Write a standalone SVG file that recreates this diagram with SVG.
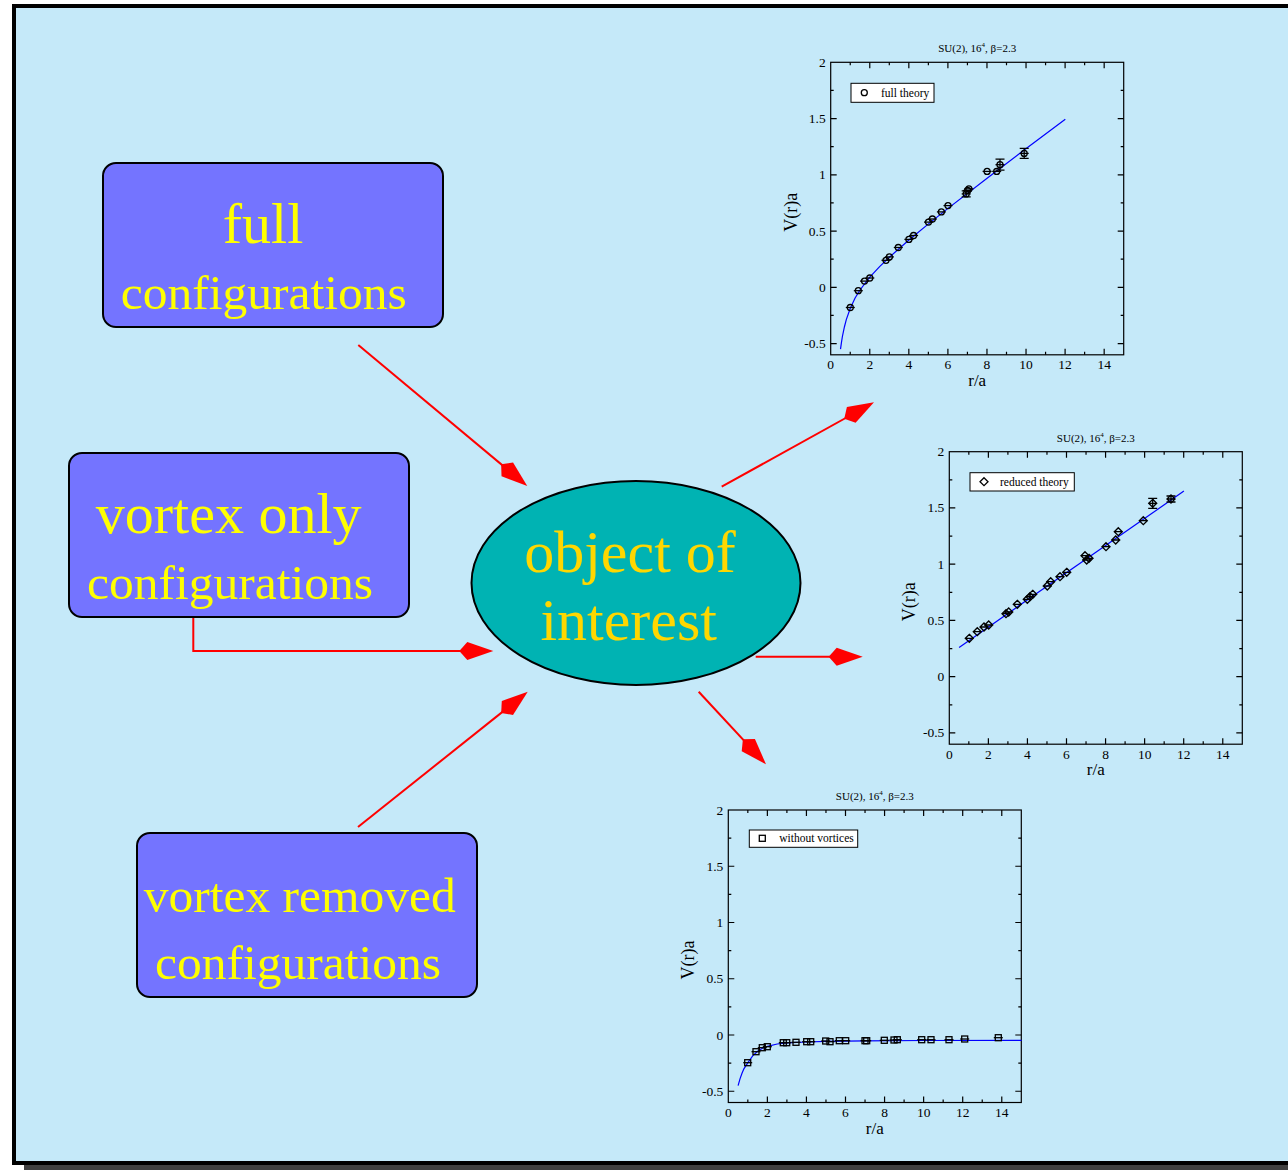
<svg xmlns="http://www.w3.org/2000/svg" width="1288" height="1170" viewBox="0 0 1288 1170">
<style>
.box{fill:#7474ff;stroke:#000;stroke-width:2}
.bt{font-family:"Liberation Serif","Times New Roman",serif;fill:#ffff00;text-anchor:middle}
.et{font-family:"Liberation Serif","Times New Roman",serif;fill:#ffd700;text-anchor:middle;font-size:60px}
.conn{fill:none;stroke:#ff0000;stroke-width:2;marker-end:url(#head)}
.pt{font-family:"Liberation Serif","Times New Roman",serif;fill:#000}
.tk{font-size:13.5px}
.fr{fill:none;stroke:#000;stroke-width:1.2}
.fit{fill:none;stroke:#0000ff;stroke-width:1.2}
.sym{fill:none;stroke:#000;stroke-width:1.3}
.leg{fill:#fff;stroke:#000;stroke-width:1}
.lt{font-size:11.5px}
</style>
<defs>
<marker id="head" markerUnits="userSpaceOnUse" orient="auto" viewBox="-16 -10 38 20" refX="0" refY="0" markerWidth="38" markerHeight="20">
<path d="M20,0 L-6,-9 L-14,0 L-6,9 Z" fill="#ff0000"/>
</marker>
<g id="axes">
<rect class="fr" x="0" y="0" width="293" height="292.5"/>
<path class="fr" d="M39.07 292.5v-6M78.13 292.5v-6M117.2 292.5v-6M156.27 292.5v-6M195.33 292.5v-6M234.4 292.5v-6M273.47 292.5v-6
M19.53 292.5v-3M58.6 292.5v-3M97.67 292.5v-3M136.73 292.5v-3M175.8 292.5v-3M214.87 292.5v-3M253.93 292.5v-3
M39.07 0v6M78.13 0v6M117.2 0v6M156.27 0v6M195.33 0v6M234.4 0v6M273.47 0v6
M19.53 0v3M58.6 0v3M97.67 0v3M136.73 0v3M175.8 0v3M214.87 0v3M253.93 0v3
M0 56.25h6M0 112.5h6M0 168.75h6M0 225h6M0 281.25h6
M0 28.13h3M0 84.38h3M0 140.63h3M0 196.88h3M0 253.13h3
M293 56.25h-6M293 112.5h-6M293 168.75h-6M293 225h-6M293 281.25h-6
M293 28.13h-3M293 84.38h-3M293 140.63h-3M293 196.88h-3M293 253.13h-3"/>
<g class="pt tk" text-anchor="middle">
<text x="0" y="307">0</text><text x="39.07" y="307">2</text><text x="78.13" y="307">4</text><text x="117.2" y="307">6</text><text x="156.27" y="307">8</text><text x="195.33" y="307">10</text><text x="234.4" y="307">12</text><text x="273.47" y="307">14</text>
</g>
<g class="pt tk" text-anchor="end">
<text x="-5" y="4.5">2</text><text x="-5" y="60.75">1.5</text><text x="-5" y="117">1</text><text x="-5" y="173.25">0.5</text><text x="-5" y="229.5">0</text><text x="-5" y="285.75">-0.5</text>
</g>
<text class="pt" x="146.5" y="-10" text-anchor="middle" font-size="11">SU(2), 16<tspan font-size="7" dy="-5">4</tspan><tspan dy="5">, β=2.3</tspan></text>
<text class="pt" x="146.5" y="323.5" text-anchor="middle" font-size="17">r/a</text>
<text class="pt" transform="translate(-34,150) rotate(-90)" text-anchor="middle" font-size="18">V(r)a</text>
</g>
<g id="pc"><circle class="sym" cx="0" cy="0" r="3"/><path class="sym" d="M-4.5 0h9"/></g>
<g id="pd"><path class="sym" d="M0 -4L4 0L0 4L-4 0Z M-4.5 0h9"/></g>
<g id="ps"><rect class="sym" x="-3" y="-3" width="6" height="6"/><path class="sym" d="M-4.5 0h9"/></g>
</defs>

<rect x="0" y="0" width="1288" height="1170" fill="#ffffff"/>
<rect x="24" y="1165" width="1264" height="5" fill="#404040"/>
<rect x="14" y="6" width="1300" height="1157" fill="#c5e9f9" stroke="#000" stroke-width="4"/>

<g id="connectors">
<path class="conn" d="M358.3,345 L511.9,473.2"/>
<path class="conn" d="M193.3,617 V651 H473.3"/>
<path class="conn" d="M358,827 L512.1,704.2"/>
<path class="conn" d="M721.7,486.7 L856.5,412"/>
<path class="conn" d="M755.7,656.7 L842.7,656.7"/>
<path class="conn" d="M698.7,691.7 L752.4,749.6"/>
</g>

<g id="box-full">
<rect class="box" x="103" y="163" width="340" height="164" rx="13"/>
<text class="bt" x="263" y="243" font-size="58">full</text>
<text class="bt" x="263.7" y="309" font-size="49.5">configurations</text>
</g>
<g id="box-vortex-only">
<rect class="box" x="69" y="453" width="340" height="164" rx="13"/>
<text class="bt" x="228.7" y="533" font-size="58">vortex only</text>
<text class="bt" x="230" y="599" font-size="49.5">configurations</text>
</g>
<g id="box-vortex-removed">
<rect class="box" x="137" y="833" width="340" height="164" rx="13"/>
<text class="bt" x="299.7" y="912" font-size="49.5">vortex removed</text>
<text class="bt" x="298" y="979" font-size="49.5">configurations</text>
</g>
<g id="object-of-interest">
<ellipse cx="636" cy="583" rx="164.5" ry="102" fill="#00b3b3" stroke="#000" stroke-width="2"/>
<text class="et" x="630" y="572">object of</text>
<text class="et" x="628.7" y="639.5">interest</text>
</g>

<g id="plot-full">
<use href="#axes" transform="translate(830.7,62.3)"/>
<rect class="leg" x="851" y="83.3" width="83" height="19"/>
<circle class="sym" cx="864.3" cy="92.7" r="3"/>
<text class="pt lt" x="881" y="96.5">full theory</text>
<path class="fit" d="M840.5,349.1 L841.5,342.2 L842.4,336.5 L844.4,327 L846.3,319.6 L850.3,308.3 L855.1,298 L860,290 L869.8,277.2 L879.6,266.6 L889.4,257.2 L908.9,240 L928.5,223.9 L948,208.4 L987.1,178.2 L1026.2,148.6 L1065.3,119.2"/>
<use href="#pc" x="850.3" y="307.5"/><use href="#pc" x="858.3" y="290.7"/><use href="#pc" x="864.5" y="281.1"/><use href="#pc" x="869.8" y="278"/>
<use href="#pc" x="886" y="260.3"/><use href="#pc" x="889.4" y="256.9"/><use href="#pc" x="898.3" y="247.5"/><use href="#pc" x="908.9" y="239.4"/>
<use href="#pc" x="913.6" y="235.5"/><use href="#pc" x="928.5" y="222.1"/><use href="#pc" x="932.4" y="219"/><use href="#pc" x="941.4" y="211.9"/>
<use href="#pc" x="948" y="205.6"/><use href="#pc" x="966.2" y="193.9"/><use href="#pc" x="967.6" y="190.5"/><use href="#pc" x="968.9" y="188.9"/>
<use href="#pc" x="987.1" y="171.4"/><use href="#pc" x="996.7" y="171.4"/><use href="#pc" x="1000" y="164.7"/><use href="#pc" x="1024.2" y="153.4"/>
<path class="sym" d="M966.2 190.9V196.9M961.7 190.9h9M961.7 196.9h9 M1000 159.2V170.2M995.5 159.2h9M995.5 170.2h9 M1024.2 148.4V158.4M1019.7 148.4h9M1019.7 158.4h9"/>
</g>

<g id="plot-reduced">
<use href="#axes" transform="translate(949.3,451.7)"/>
<rect class="leg" x="970" y="472.7" width="104.3" height="18.3"/>
<path class="sym" d="M984 477.7L988 481.7L984 485.7L980 481.7Z"/>
<text class="pt lt" x="1000" y="485.5">reduced theory</text>
<path class="fit" d="M959.1,647.4 L1183.9,491.1"/>
<use href="#pd" x="969.3" y="638.3"/><use href="#pd" x="977.3" y="631.7"/><use href="#pd" x="984" y="627"/><use href="#pd" x="988.7" y="625"/>
<use href="#pd" x="1006" y="613.7"/><use href="#pd" x="1008.7" y="612"/><use href="#pd" x="1017.3" y="604.3"/><use href="#pd" x="1027.3" y="599.3"/>
<use href="#pd" x="1030" y="596.7"/><use href="#pd" x="1032.7" y="594.3"/><use href="#pd" x="1047.3" y="586"/><use href="#pd" x="1050.7" y="581.7"/>
<use href="#pd" x="1060" y="576.7"/><use href="#pd" x="1066.7" y="572.3"/><use href="#pd" x="1085" y="555.7"/><use href="#pd" x="1086.7" y="560"/>
<use href="#pd" x="1089" y="558.3"/><use href="#pd" x="1106" y="546.7"/><use href="#pd" x="1115.7" y="540"/><use href="#pd" x="1118.3" y="531.7"/>
<use href="#pd" x="1143.3" y="520.7"/><use href="#pd" x="1152.7" y="503.3"/><use href="#pd" x="1171" y="499"/>
<path class="sym" d="M1152.7 498.3V508.3M1148.2 498.3h9M1148.2 508.3h9 M1171 496V502M1166.5 496h9M1166.5 502h9"/>
</g>

<g id="plot-without-vortices">
<use href="#axes" transform="translate(728.3,810)"/>
<rect class="leg" x="749.3" y="830" width="108.4" height="17.3"/>
<rect class="sym" x="759.3" y="835.3" width="6" height="6"/>
<text class="pt lt" x="779.3" y="842">without vortices</text>
<path class="fit" d="M738.1,1085.6 L740,1078.9 L742,1073.3 L743.9,1068.8 L747.9,1062.6 L752.7,1055.8 L757.6,1051.3 L762.5,1048.3 L767.4,1046.3 L777.2,1044 L787,1042.9 L806.5,1042 L826.1,1041.4 L865.2,1040.9 L923.8,1040.5 L1021.6,1040.3"/>
<use href="#ps" x="747.7" y="1062.7"/><use href="#ps" x="756" y="1051.7"/><use href="#ps" x="762.3" y="1047.7"/><use href="#ps" x="767.3" y="1046.7"/>
<use href="#ps" x="783.3" y="1042.7"/><use href="#ps" x="786.7" y="1042.7"/><use href="#ps" x="796" y="1042.3"/><use href="#ps" x="806.7" y="1041.7"/>
<use href="#ps" x="810.7" y="1041.7"/><use href="#ps" x="825.7" y="1041"/><use href="#ps" x="830" y="1041.7"/><use href="#ps" x="839.3" y="1040.7"/>
<use href="#ps" x="845.7" y="1040.7"/><use href="#ps" x="865" y="1040.7"/><use href="#ps" x="866.7" y="1040.7"/><use href="#ps" x="884.3" y="1040.3"/>
<use href="#ps" x="894" y="1040"/><use href="#ps" x="897.3" y="1039.7"/><use href="#ps" x="921.7" y="1039.7"/><use href="#ps" x="931" y="1039.7"/>
<use href="#ps" x="949" y="1039.7"/><use href="#ps" x="964.7" y="1039"/><use href="#ps" x="998.3" y="1037.7"/>
</g>
</svg>
